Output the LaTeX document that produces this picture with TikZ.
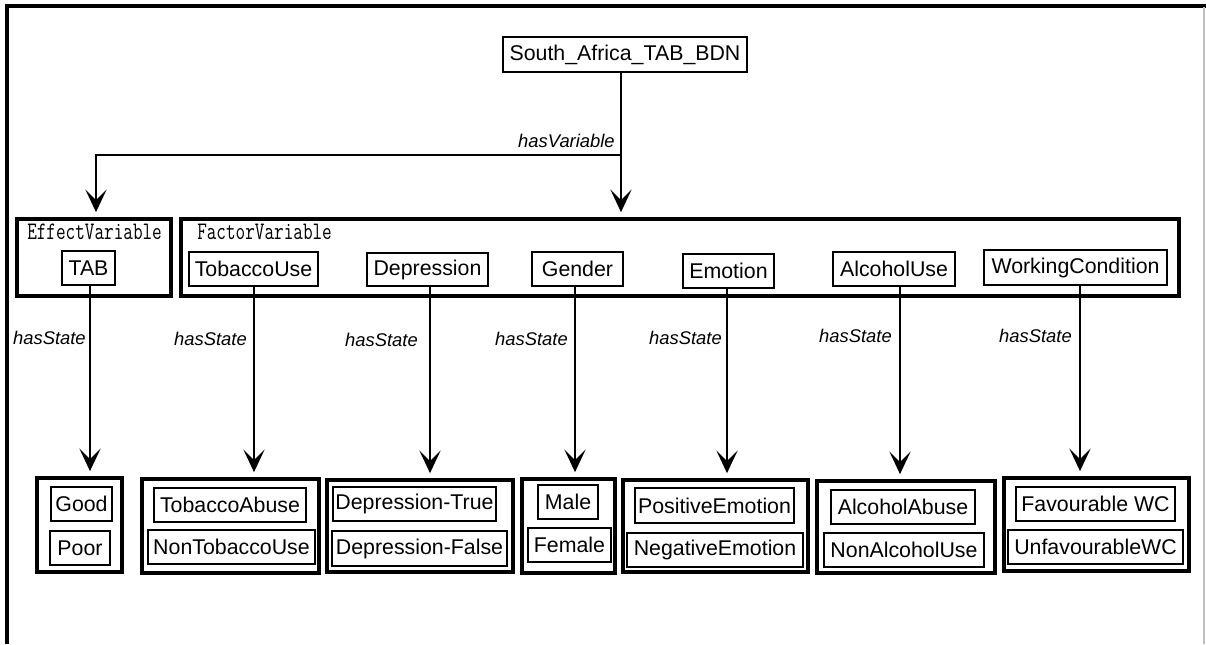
\documentclass[tikz,border=0pt]{standalone}
\usepackage{fontspec}
\setmainfont{Liberation Sans}
\usetikzlibrary{arrows.meta}

\tikzset{
  px/.style={x=0.75pt,y=-0.75pt},
  % box given by its corners x1,y1,x2,y2
  span/.style n args={4}{at={({(#1+#3)/2},{(#2+#4)/2})},
    minimum width={(#3-#1)*0.75pt},minimum height={(#4-#2)*0.75pt}},
  thinbox/.style={draw,line width=1pt,inner sep=0pt,font=\fontsize{16pt}{18pt}\selectfont},
  grpbox/.style={draw,line width=2.3pt,inner sep=0pt},
  varttl/.style={inner sep=0pt,anchor=north west,font=\fontsize{14pt}{16pt}\ttfamily},
  lbl/.style={inner sep=0pt,font=\fontsize{13.8pt}{16pt}\itshape},
  conn/.style={line width=1.1pt},
  arr/.style={conn,-{Stealth[length=17pt,width=16pt,inset=8pt]},shorten >=4pt},
}

\begin{document}
\begin{tikzpicture}[px]
\useasboundingbox (0,0) rectangle (1206,644);

% page frame
\draw[line width=2.3pt] (7,644) -- (7,6) -- (1206,6);
\draw[black!25,line width=0.8pt] (1204,7) -- (1204,644);

% root network
\node[thinbox,span={503}{37}{747}{72}] (root) {South\_Africa\_TAB\_BDN};

% variable containers
\node[grpbox,span={17}{219}{171}{296}] (evar) {};
\node[varttl] (evarT) at (27,224) {\scalebox{1}[1.35]{EffectVariable}};
\node[grpbox,span={181}{219}{1179}{296}] (fvar) {};
\node[varttl] (fvarT) at (197,224) {\scalebox{1}[1.35]{FactorVariable}};

% variables
\node[thinbox,span={62}{251}{115}{285}] (tab) {TAB};
\node[thinbox,span={189}{252}{318}{286}] (tob) {TobaccoUse};
\node[thinbox,span={367}{253}{488}{286}] (dep) {Depression};
\node[thinbox,span={532}{252}{623}{286}] (gen) {Gender};
\node[thinbox,span={683}{254}{774}{288}] (emo) {Emotion};
\node[thinbox,span={833}{252}{955}{286}] (alc) {AlcoholUse};
\node[thinbox,span={984}{250}{1167}{285}] (wc) {WorkingCondition};

% state groups
\node[grpbox,span={37}{478}{122}{572}] (gtab) {};
\node[thinbox,span={51}{487}{112}{521}] (good) {Good};
\node[thinbox,span={50}{531}{110}{565}] (poor) {Poor};

\node[grpbox,span={142}{479}{319}{573}] (gtob) {};
\node[thinbox,span={154}{488}{306}{522}] (tabuse) {TobaccoAbuse};
\node[thinbox,span={148}{530}{315}{564}] (ntob) {NonTobaccoUse};

\node[grpbox,span={327}{480}{513}{572}] (gdep) {};
\node[thinbox,span={333}{487}{496}{521}] (dtrue) {Depression-True};
\node[thinbox,span={332}{531}{507}{566}] (dfalse) {Depression-False};

\node[grpbox,span={522}{479}{615}{573}] (ggen) {};
\node[thinbox,span={538}{485}{598}{519}] (male) {Male};
\node[thinbox,span={528}{528}{611}{562}] (female) {Female};

\node[grpbox,span={623}{480}{808}{572}] (gemo) {};
\node[thinbox,span={635}{488}{794}{523}] (pemo) {PositiveEmotion};
\node[thinbox,span={627}{533}{803}{567}] (nemo) {NegativeEmotion};

\node[grpbox,span={817}{481}{995}{573}] (galc) {};
\node[thinbox,span={831}{490}{975}{524}] (aabuse) {AlcoholAbuse};
\node[thinbox,span={824}{533}{984}{567}] (nalc) {NonAlcoholUse};

\node[grpbox,span={1004}{478}{1189}{571}] (gwc) {};
\node[thinbox,span={1016}{487}{1175}{521}] (fwc) {Favourable WC};
\node[thinbox,span={1008}{530}{1183}{564}] (uwc) {UnfavourableWC};

% hasVariable connectors
\coordinate (jn) at (621,155);
\coordinate (jl) at (96,155);
\draw[arr] (root.south -| jn) -- (jn) -- (fvar.north -| jn);
\draw[arr] (jn) -- (jl) -- (evar.north -| jl);
\node[lbl,anchor=east] (hv) at (615,141) {hasVariable};

% hasState connectors
\coordinate (xtab) at (90,0);
\coordinate (xtob) at (254,0);
\coordinate (xdep) at (430,0);
\coordinate (xgen) at (575,0);
\coordinate (xemo) at (727,0);
\coordinate (xalc) at (900,0);
\coordinate (xwc)  at (1080,0);
\draw[arr] (tab.south -| xtab) -- (gtab.north -| xtab);
\draw[arr] (tob.south -| xtob) -- (gtob.north -| xtob);
\draw[arr] (dep.south -| xdep) -- (gdep.north -| xdep);
\draw[arr] (gen.south -| xgen) -- (ggen.north -| xgen);
\draw[arr] (emo.south -| xemo) -- (gemo.north -| xemo);
\draw[arr] (alc.south -| xalc) -- (galc.north -| xalc);
\draw[arr] (wc.south -| xwc) -- (gwc.north -| xwc);

\node[lbl,anchor=east] (hs1) at (86,338) {hasState};
\node[lbl,anchor=east] (hs2) at (247,339) {hasState};
\node[lbl,anchor=east] (hs3) at (418,340) {hasState};
\node[lbl,anchor=east] (hs4) at (568,339) {hasState};
\node[lbl,anchor=east] (hs5) at (722,338) {hasState};
\node[lbl,anchor=east] (hs6) at (892,336) {hasState};
\node[lbl,anchor=east] (hs7) at (1072,336) {hasState};
\end{tikzpicture}
\end{document}
